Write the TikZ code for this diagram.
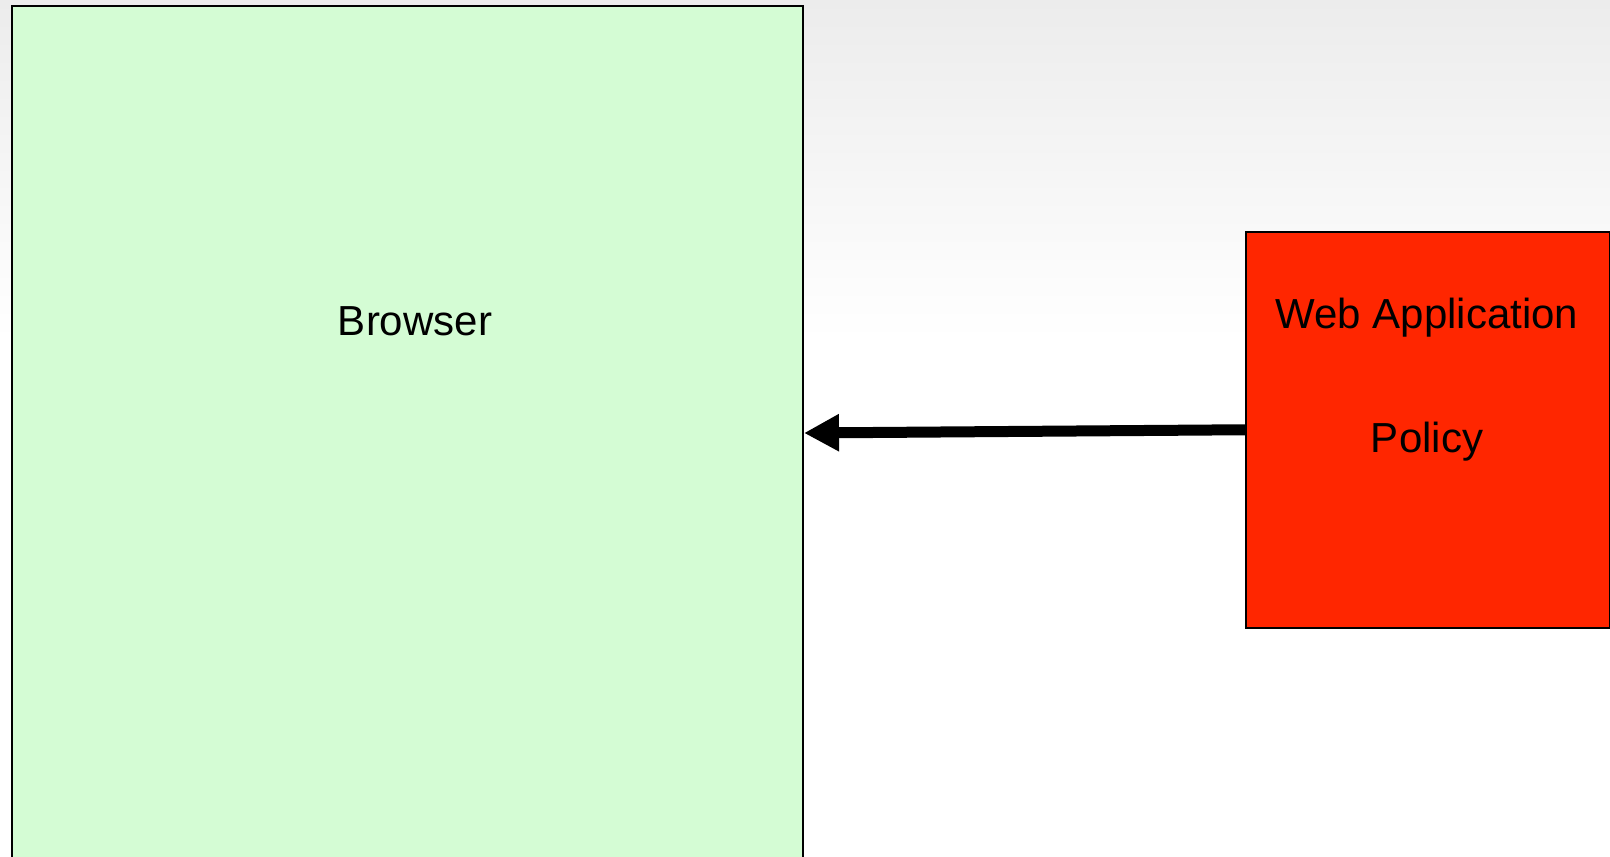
\documentclass[tikz,border=0pt]{standalone}
\usepackage{fontspec}
\setmainfont{Liberation Sans}
\usetikzlibrary{arrows.meta}
\definecolor{browserfill}{HTML}{D4FCD4}
\definecolor{appred}{HTML}{FF2600}
\definecolor{bgtop}{HTML}{ECECEC}
\begin{document}
\begin{tikzpicture}[x=1pt,y=-1pt,
  box/.style={draw=black,line width=2pt,rectangle,inner sep=0pt,anchor=north west},
  lbl/.style={font=\fontsize{42}{124}\selectfont,inner sep=0pt,align=center},
  bigarrow/.style={line width=11pt,-{Triangle[length=35pt,width=35pt]}}]
\useasboundingbox (0,0) rectangle (1610,857);
\clip (0,0) rectangle (1610,857);
\fill[white] (0,0) rectangle (1610,857);
\shade[top color=bgtop,bottom color=white] (0,0) rectangle (1610,340);
\node[box,fill=browserfill,minimum width=791.5pt,minimum height=854pt] (browser) at (10.5,5) {};
\node[lbl,anchor=base] (browsertext) at (415,335) {Browser};
\node[box,fill=appred,minimum width=364pt,minimum height=395.5pt] (webapp) at (1245,231) {};
\node[lbl,anchor=base] (webapptext) at (1427,452) {Web Application\\Policy};
\draw[bigarrow] (webapp.west) -- (browser.east);
\end{tikzpicture}
\end{document}
